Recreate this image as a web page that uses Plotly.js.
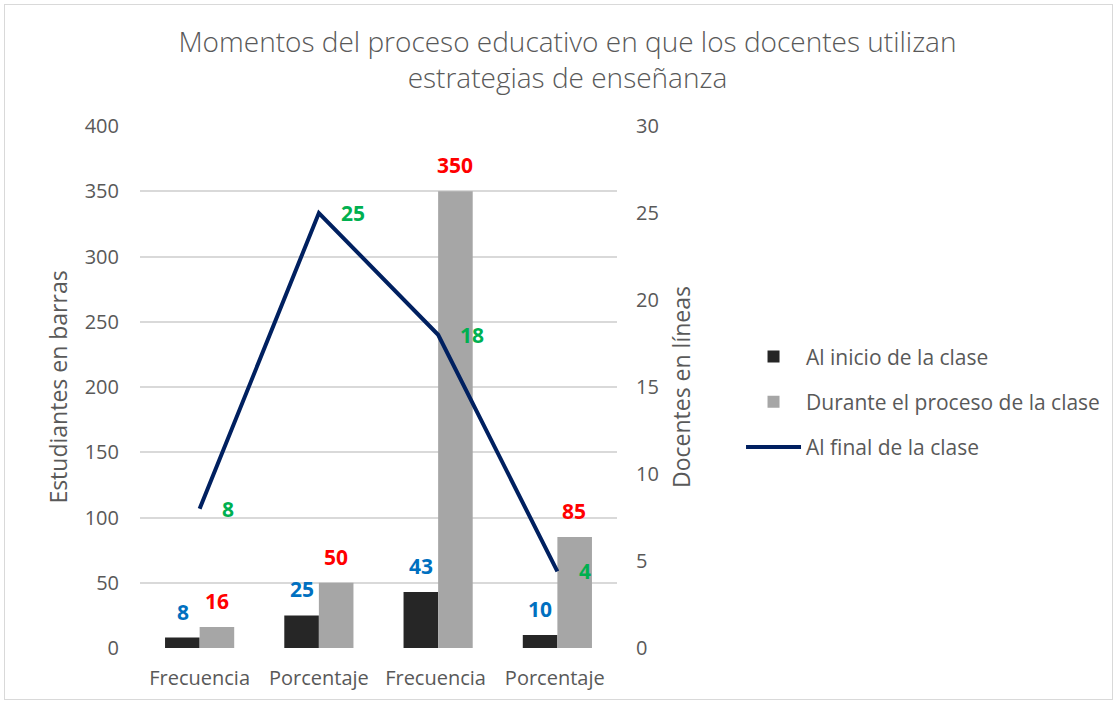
<!DOCTYPE html>
<html><head><meta charset="utf-8">
<script src="https://cdn.plot.ly/plotly-3.0.1.min.js"></script>
<style>
html,body{margin:0;padding:0;background:#fff;}
#frame{position:absolute;left:4px;top:4px;width:1107px;height:694px;border:1px solid #d9d9d9;}
#chart{position:absolute;left:0;top:0;width:1117px;height:704px;}
</style></head>
<body><div id="frame"></div><div id="chart"></div>
<script>
const categories = ["Frecuencia", "Porcentaje", "Frecuencia ", "Porcentaje "];
const inicio = [8, 25, 43, 10];
const durante = [16, 50, 350, 85];
const finalClase = [8, 25, 18, 4.4];
const finalLabels = ["8", "25", "18", "4"];

const FONT = "'Open Sans', sans-serif";
const labelFont = {family: FONT, size: 21, weight: 700};
const grey = "#595959";

const traces = [
  {type: "bar", name: "Al inicio de la clase", x: categories, y: inicio, legendgroup: "a",
   marker: {color: "#262626"}, yaxis: "y", hoverinfo: "none"},
  {type: "bar", name: "Durante el proceso de la clase", x: categories, y: durante, legendgroup: "b",
   marker: {color: "#a6a6a6"}, yaxis: "y", hoverinfo: "none"},
  {type: "scatter", mode: "lines", name: "Al final de la clase", x: categories, y: finalClase, legendgroup: "c",
   line: {color: "#002060", width: 4}, yaxis: "y2", hoverinfo: "none"}
];

const annotations = [];
categories.forEach((c, i) => {
  annotations.push({x: c, y: inicio[i], xref: "x", yref: "y", text: String(inicio[i]),
    showarrow: false, xshift: -17, yshift: 26, font: Object.assign({}, labelFont, {color: "#0070c0"})});
  annotations.push({x: c, y: durante[i], xref: "x", yref: "y", text: String(durante[i]),
    showarrow: false, xshift: 17, yshift: 26, font: Object.assign({}, labelFont, {color: "#ff0000"})});
  annotations.push({x: c, y: finalClase[i], xref: "x", yref: "y2", text: finalLabels[i],
    showarrow: false, xanchor: "left", xshift: 20, yshift: 0, font: Object.assign({}, labelFont, {color: "#00b050"})});
});

const layout = {
  width: 1117, height: 704,
  paper_bgcolor: "rgba(0,0,0,0)", plot_bgcolor: "rgba(0,0,0,0)",
  margin: {l: 140, r: 500, t: 126, b: 56},
  font: {family: FONT, color: grey, size: 20},
  title: {text: "Momentos del proceso educativo en que los docentes utilizan<br>estrategias de enseñanza",
    x: 0.508, xanchor: "center", y: 0.926, yanchor: "top",
    font: {family: FONT, size: 28, weight: 300, color: grey}},
  barmode: "group", bargap: 0.42, bargroupgap: 0,
  xaxis: {type: "category", showgrid: false, zeroline: false, showline: false,
    tickfont: {size: 20, color: grey}, ticks: "", automargin: false, ticklabelstandoff: 16},
  yaxis: {range: [0, 400], dtick: 50, showgrid: true, gridcolor: "#d9d9d9", gridwidth: 2,
    zeroline: false, showline: false, ticks: "", ticklabelstandoff: 20,
    tickfont: {size: 20, color: grey}, automargin: false,
    title: {text: "Estudiantes en barras", standoff: 10, font: {size: 23, color: grey}}},
  yaxis2: {range: [0, 30], dtick: 5, overlaying: "y", side: "right", showgrid: false,
    zeroline: false, showline: false, ticks: "", ticklabelstandoff: 18,
    tickfont: {size: 20, color: grey}, automargin: false,
    title: {text: "Docentes en líneas", standoff: 16, font: {size: 23, color: grey}}},
  showlegend: true,
  legend: {x: 1.26, y: 0.597, xanchor: "left", yanchor: "top", tracegroupgap: 15,
    font: {size: 21, color: grey}, itemwidth: 55, traceorder: "grouped",
    bgcolor: "rgba(0,0,0,0)"},
  annotations: annotations
};

Plotly.newPlot("chart", traces, layout, {displayModeBar: false, staticPlot: true});
</script></body></html>
